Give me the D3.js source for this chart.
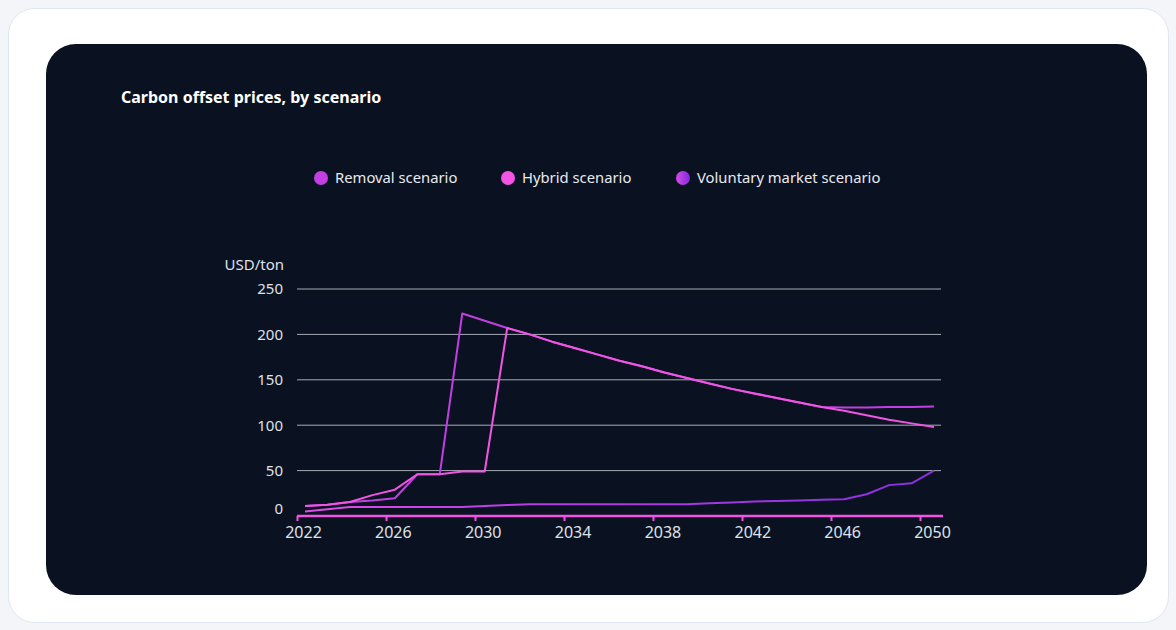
<!DOCTYPE html>
<html>
<head>
<meta charset="utf-8">
<script src="https://cdn.jsdelivr.net/npm/d3@7"></script>
<style>
	html, body { margin: 0; padding: 0; background: #f3f5f9; }
	body { width: 1176px; height: 630px; overflow: hidden; font-family: "Noto Sans", "Open Sans", sans-serif; }
	.tick text { font-family: "Noto Sans", sans-serif; }
</style>
</head>
<body>
<div id="chart"></div>
<script>
// data
const years = [2022, 2023, 2024, 2025, 2026, 2027, 2028, 2029, 2030, 2031, 2032, 2033, 2034, 2035,
	2036, 2037, 2038, 2039, 2040, 2041, 2042, 2043, 2044, 2045, 2046, 2047, 2048, 2049, 2050];
const removal = [11, 12.5, 15.5, 17, 19.5, 46, 46, 223, 215, 207, 200, 192, 185, 178,
	171, 165, 158, 152, 146, 140, 135, 130, 125, 120, 119.5, 119.5, 120, 120, 120.5];
const hybrid = [11, 12.5, 15.5, 23, 29, 46, 46, 49, 49, 207, 200, 192, 185, 178,
	171, 165, 158, 152, 146, 140, 135, 130, 125, 120, 116, 111, 106, 102, 98];
const voluntary = [5, 7.5, 10, 10, 10, 10, 10, 10, 11, 12, 13, 13, 13, 13,
	13, 13, 13, 13, 14, 15, 16, 16.5, 17, 18, 18.5, 24, 34, 36, 50];
const xTicks = [2022, 2026, 2030, 2034, 2038, 2042, 2046, 2050];
const yTicks = [0, 50, 100, 150, 200, 250];
const seriesNames = ["Removal scenario", "Hybrid scenario", "Voluntary market scenario"];

const W = 1176, H = 630;
const pink = "#f255e4", magenta = "#c23fe4";

let svg = d3.select("#chart").append("svg")
	.attr("width", W).attr("height", H);

// gradient for voluntary line + legend dot
let defs = svg.append("defs");
let lineGrad = defs.append("linearGradient")
	.attr("id", "volGrad").attr("gradientUnits", "userSpaceOnUse")
	.attr("x1", 300).attr("x2", 940).attr("y1", 0).attr("y2", 0);
lineGrad.append("stop").attr("offset", "0%").attr("stop-color", "#e24fe6");
lineGrad.append("stop").attr("offset", "35%").attr("stop-color", "#b43ee2");
lineGrad.append("stop").attr("offset", "100%").attr("stop-color", "#8a2ee0");
let dotGrad = defs.append("linearGradient").attr("id", "dotGrad");
dotGrad.append("stop").attr("offset", "0%").attr("stop-color", "#d84ae8");
dotGrad.append("stop").attr("offset", "100%").attr("stop-color", "#7f2bdc");

// outer card + dark panel
svg.append("rect").attr("x", 8.5).attr("y", 8.5).attr("width", 1160).attr("height", 614)
	.attr("rx", 26).attr("fill", "#fff").attr("stroke", "#dfe5ef");
svg.append("rect").attr("x", 46).attr("y", 44).attr("width", 1101).attr("height", 551)
	.attr("rx", 30).attr("fill", "#0a1120");

svg.append("text")
	.attr("x", 121).attr("y", 103)
	.attr("fill", "#fff")
	.style("font-size", "16px").style("font-weight", 700)
	.text("Carbon offset prices, by scenario");

// legend
let legendX = [321, 508, 683];
let legendFill = [magenta, pink, "url(#dotGrad)"];
let legend = svg.append("g").selectAll("g")
	.data(seriesNames).enter()
	.append("g")
	.attr("transform", (d, i) => "translate(" + legendX[i] + ",178)");
legend.append("circle").attr("r", 7).attr("fill", (d, i) => legendFill[i]);
legend.append("text")
	.attr("x", 14).attr("dy", "0.35em")
	.attr("fill", "#e8eaf0")
	.style("font-size", "14.8px")
	.text(d => d);

/* scales */
let xAxisScale = d3.scaleLinear().domain([2022, 2050]).range([297, 920]); // tick marks
let x = d3.scaleLinear().domain([2022, 2050]).range([305, 934]);          // data + labels
let y = d3.scaleLinear().domain([0, 250]).range([516, 289]);

// gridlines
svg.append("g")
	.attr("class", "grid")
	.selectAll("line")
	.data(yTicks.filter(d => d > 0)).enter()
	.append("line")
	.attr("x1", 297).attr("x2", 941)
	.attr("y1", d => y(d)).attr("y2", d => y(d))
	.attr("stroke", "#a7acb4").attr("stroke-width", 1);

// y axis labels
let yAxis = svg.append("g")
	.attr("transform", "translate(283,0)")
	.call(d3.axisLeft(y).tickValues(yTicks).tickSize(0).tickPadding(0));
yAxis.select(".domain").remove();
yAxis.selectAll("text")
	.attr("fill", "#dfe2e8")
	.style("font-size", "15px")
	.attr("dy", d => d === 0 ? "-0.2em" : "0.32em");

svg.append("text")
	.attr("x", 284).attr("y", 270)
	.attr("text-anchor", "end")
	.attr("fill", "#dfe2e8")
	.style("font-size", "15px")
	.text("USD/ton");

/* lines */
let line = d3.line()
	.x(d => x(d.year))
	.y(d => y(d.value));
let toPts = arr => years.map((yr, i) => ({ year: yr, value: arr[i] }));

let lines = svg.append("g").attr("class", "lines").attr("fill", "none")
	.attr("stroke-width", 2).attr("stroke-linejoin", "round");
lines.append("path").attr("d", line(toPts(voluntary))).attr("stroke", "url(#volGrad)");
lines.append("path").attr("d", line(toPts(removal))).attr("stroke", magenta);
lines.append("path").attr("d", line(toPts(hybrid))).attr("stroke", pink);

// x axis (pink) - labels sit on the data positions, tick marks a bit left
let xAxis = svg.append("g")
	.attr("transform", "translate(0,516)")
	.call(d3.axisBottom(x).tickValues(xTicks).tickFormat(d3.format("d"))
		.tickSize(5).tickSizeOuter(0).tickPadding(6));
xAxis.select(".domain")
	.attr("d", "M297,0H943")
	.attr("stroke", pink).attr("stroke-width", 2.5);
xAxis.selectAll(".tick line")
	.attr("transform", d => "translate(" + (xAxisScale(d) - x(d)) + ",0)")
	.attr("stroke", pink).attr("stroke-width", 2);
xAxis.selectAll(".tick text")
	.attr("dx", -2)
	.attr("fill", "#dfe2e8")
	.style("font-size", "16px");
</script>
</body>
</html>
